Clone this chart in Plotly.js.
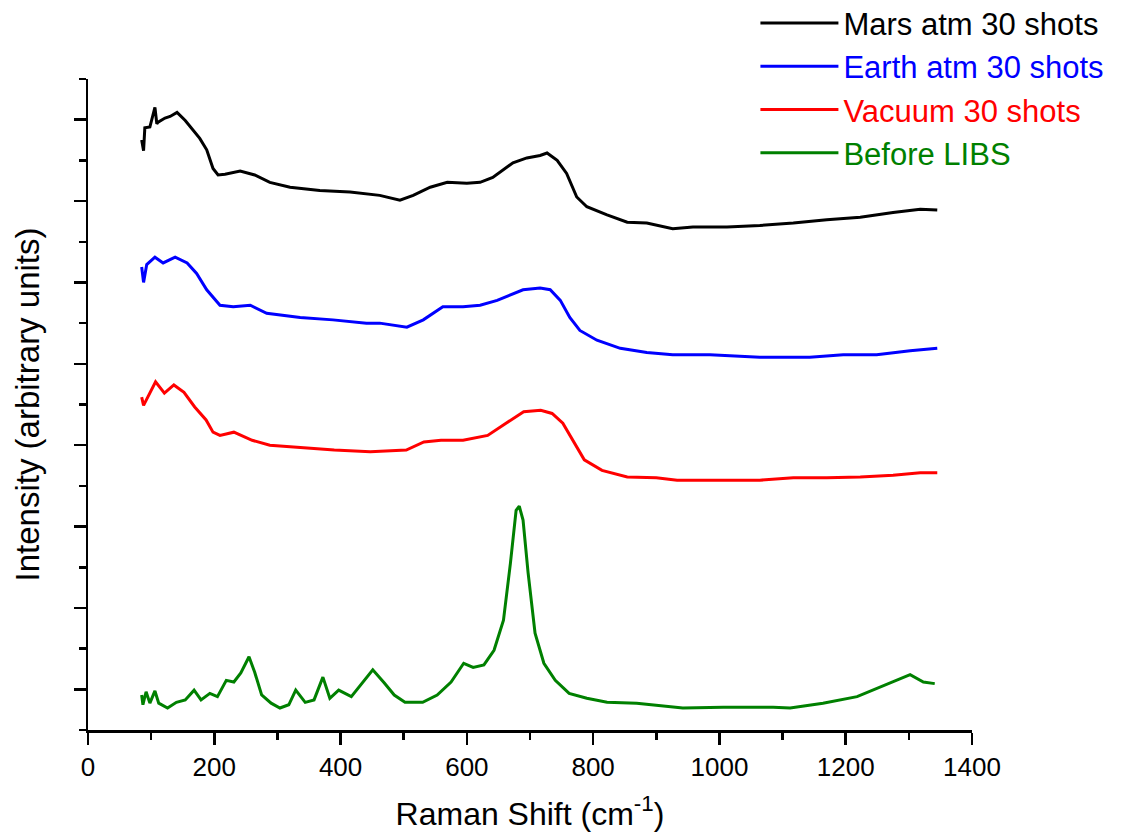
<!DOCTYPE html>
<html>
<head>
<meta charset="utf-8">
<script src="https://cdn.plot.ly/plotly-3.0.1.min.js"></script>
<style>html,body{margin:0;padding:0;background:#fff;}#chart{width:1133px;height:838px;}</style>
</head>
<body>
<div id="chart"></div>
<script>
// Raman shift (cm^-1) and offset intensities (arbitrary units)
var seriesNames = ["Mars atm 30 shots", "Earth atm 30 shots", "Vacuum 30 shots", "Before LIBS"];
var seriesColors = ["#000000", "#0000ff", "#ff0000", "#008000"];

var xMars = [85,88,90,98,106,109,111,122,130,141,154,166,177,188,198,206,217,241,264,288,320,367,415,462,494,515,542,569,600,621,641,673,695,716,727,743,758,774,790,822,854,885,926,958,1012,1064,1117,1170,1223,1275,1318,1345];
var yMars = [6.75,6.62,6.90,6.91,7.15,6.95,6.97,7.02,7.04,7.09,6.99,6.87,6.77,6.63,6.40,6.32,6.33,6.37,6.32,6.23,6.17,6.13,6.11,6.07,6.01,6.07,6.17,6.23,6.22,6.23,6.29,6.47,6.53,6.56,6.59,6.50,6.34,6.05,5.93,5.83,5.74,5.73,5.66,5.68,5.68,5.70,5.73,5.77,5.80,5.86,5.90,5.89];

var xEarth = [85,88,93,106,119,138,157,172,188,209,230,257,283,336,388,441,462,505,531,562,594,621,648,689,716,732,748,763,779,806,843,885,926,985,1064,1143,1196,1249,1302,1345];
var yEarth = [5.19,5.00,5.22,5.31,5.24,5.31,5.24,5.11,4.91,4.72,4.70,4.72,4.62,4.57,4.54,4.50,4.50,4.45,4.54,4.70,4.70,4.72,4.78,4.91,4.93,4.91,4.78,4.57,4.41,4.29,4.19,4.14,4.11,4.11,4.08,4.08,4.11,4.11,4.16,4.19];

var xVacuum = [85,88,107,121,136,152,169,187,198,209,231,260,288,322,356,390,447,504,532,559,594,633,662,690,717,735,752,770,786,814,854,900,933,958,1012,1064,1117,1170,1223,1275,1318,1345];
var yVacuum = [3.59,3.49,3.78,3.64,3.74,3.65,3.47,3.31,3.16,3.12,3.16,3.06,3.00,2.98,2.96,2.94,2.92,2.94,3.04,3.06,3.06,3.12,3.27,3.41,3.43,3.39,3.27,3.03,2.82,2.69,2.61,2.60,2.57,2.57,2.57,2.57,2.60,2.60,2.61,2.63,2.66,2.66];

var xBefore = [85,87,92,98,106,112,126,140,154,168,179,193,205,219,231,242,255,264,275,290,304,318,329,344,358,372,383,397,417,437,451,469,485,502,530,553,575,595,610,627,643,658,669,678,683,689,697,708,722,740,762,790,822,869,942,1006,1085,1112,1164,1218,1270,1302,1323,1341];
var yBefore = [-0.07,-0.19,-0.03,-0.17,-0.02,-0.17,-0.23,-0.16,-0.13,-0.01,-0.13,-0.05,-0.09,0.11,0.09,0.20,0.40,0.21,-0.07,-0.17,-0.23,-0.19,-0.01,-0.16,-0.13,0.15,-0.11,-0.01,-0.09,0.11,0.24,0.08,-0.07,-0.16,-0.16,-0.07,0.09,0.32,0.27,0.30,0.48,0.85,1.55,2.20,2.25,2.08,1.43,0.69,0.32,0.11,-0.05,-0.11,-0.16,-0.17,-0.23,-0.22,-0.22,-0.23,-0.17,-0.09,0.08,0.18,0.09,0.07];

var xTickVals = [0,200,400,600,800,1000,1200,1400];

var xs = [xMars, xEarth, xVacuum, xBefore];
var ys = [yMars, yEarth, yVacuum, yBefore];
var traces = [];
for (var i = 0; i < 4; i++) {
  traces.push({
    type: 'scatter', mode: 'lines',
    x: xs[i], y: ys[i],
    name: '<span style="color:' + seriesColors[i] + '">' + seriesNames[i] + '</span>',
    line: {color: seriesColors[i], width: 3},
    hoverinfo: 'skip'
  });
}

var FONT = 'Arial, "Liberation Sans", sans-serif';
var layout = {
  width: 1133, height: 838,
  margin: {l: 88, r: 161, t: 79, b: 108, autoexpand: false},
  paper_bgcolor: '#ffffff', plot_bgcolor: '#ffffff',
  font: {family: FONT, color: '#000', size: 22},
  showlegend: true,
  legend: {
    x: 0.755, y: 1.127, xanchor: 'left', yanchor: 'top',
    bgcolor: 'rgba(0,0,0,0)', borderwidth: 0,
    font: {family: FONT, size: 31, color: '#000'},
    itemwidth: 78, tracegroupgap: 0
  },
  xaxis: {
    range: [0, 1400], autorange: false,
    tickvals: xTickVals, ticktext: xTickVals.map(String),
    ticks: 'outside', ticklen: 12, tickwidth: 2.5, tickcolor: '#000',
    minor: {dtick: 100, tick0: 0, ticks: 'outside', ticklen: 7, tickwidth: 2.5, tickcolor: '#000'},
    showline: true, linewidth: 2.5, linecolor: '#000',
    showgrid: false, zeroline: false, mirror: false,
    tickfont: {family: FONT, size: 26, color: '#000'},
    ticklabelstandoff: 0,
    title: {text: 'Raman Shift (cm<sup>-1</sup>)', font: {family: FONT, size: 32, color: '#000'}, standoff: 22}
  },
  yaxis: {
    range: [-0.5, 7.5], autorange: false,
    dtick: 1, tick0: 0,
    showticklabels: false,
    ticks: 'outside', ticklen: 12, tickwidth: 2.5, tickcolor: '#000',
    minor: {dtick: 1, tick0: 0.5, ticks: 'outside', ticklen: 7, tickwidth: 2.5, tickcolor: '#000'},
    showline: true, linewidth: 2.5, linecolor: '#000',
    showgrid: false, zeroline: false, mirror: false,
    title: {text: 'Intensity (arbitrary units)', font: {family: FONT, size: 33, color: '#000'}, standoff: 24}
  }
};

Plotly.newPlot('chart', traces, layout, {staticPlot: true, displayModeBar: false});
</script>
</body>
</html>
